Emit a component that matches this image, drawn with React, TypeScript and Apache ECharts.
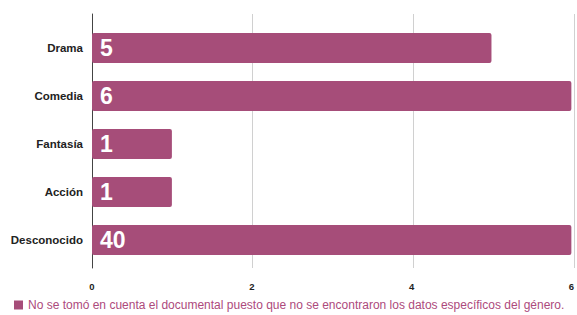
import React, { useEffect, useRef } from "react";
import * as echarts from "echarts";

const categories = ["Drama", "Comedia", "Fantasía", "Acción", "Desconocido"];
const values = [5, 6, 1, 1, 40];
const seriesName =
  "No se tomó en cuenta el documental puesto que no se encontraron los datos específicos del género.";
const xTicks = [0, 2, 4, 6];

const FONT = "Arial, 'Liberation Sans', sans-serif";
const BAR = "#a64d79";

export default function App() {
  const ref = useRef<HTMLDivElement>(null);
  useEffect(() => {
    if (!ref.current) return;
    const chart = echarts.init(ref.current, undefined, { renderer: "svg" });
    chart.setOption({
      animation: false,
      backgroundColor: "#ffffff",
      textStyle: { fontFamily: FONT },
      legend: {
        left: 9,
        top: 297,
        padding: [2, 5, 2, 5],
        icon: "rect",
        itemWidth: 9,
        itemHeight: 9,
        itemGap: 6,
        selectedMode: false,
        textStyle: { color: "#ad4a7c", fontSize: 12, fontFamily: FONT },
        data: [seriesName],
      },
      grid: [
        { left: 92, right: 3, top: 24, bottom: 51, containLabel: false },
        { left: 92, right: 3, top: 14, bottom: 47, containLabel: false },
      ],
      xAxis: [
        {
          gridIndex: 0,
          type: "value",
          min: xTicks[0],
          max: xTicks[xTicks.length - 1],
          interval: 2,
          axisLine: { show: false },
          axisTick: { show: false },
          splitLine: { show: false },
          axisLabel: {
            margin: 17,
            color: "#222",
            fontSize: 9.5,
            fontWeight: "bold",
            fontFamily: FONT,
          },
        },
        {
          gridIndex: 1,
          type: "value",
          min: xTicks[0],
          max: xTicks[xTicks.length - 1],
          interval: 2,
          axisLine: { show: false },
          axisTick: { show: false },
          axisLabel: { show: false },
          splitLine: { show: true, lineStyle: { color: "#d0d0d0", width: 1 } },
        },
      ],
      yAxis: [
        {
          gridIndex: 0,
          type: "category",
          data: categories,
          inverse: true,
          axisLine: { show: false },
          axisTick: { show: false },
          axisLabel: {
            margin: 9,
            color: "#222",
            fontSize: 11.5,
            fontWeight: "bold",
            fontFamily: FONT,
          },
        },
        {
          gridIndex: 1,
          type: "value",
          min: 0,
          max: 1,
          axisLine: { show: true, lineStyle: { color: "#444", width: 1 } },
          axisTick: { show: false },
          axisLabel: { show: false },
          splitLine: { show: false },
        },
      ],
      series: [
        {
          name: seriesName,
          type: "bar",
          xAxisIndex: 0,
          yAxisIndex: 0,
          data: values,
          barCategoryGap: "38%",
          clip: true,
          itemStyle: { color: BAR, borderRadius: 2 },
          label: {
            show: true,
            position: "insideLeft",
            distance: 8,
            color: "#ffffff",
            fontSize: 23,
            fontWeight: "bold",
            fontFamily: FONT,
          },
        },
      ],
    });
    return () => chart.dispose();
  }, []);
  return (
    <div
      ref={ref}
      style={{ position: "fixed", left: 0, top: 0, width: 577, height: 315 }}
    />
  );
}
